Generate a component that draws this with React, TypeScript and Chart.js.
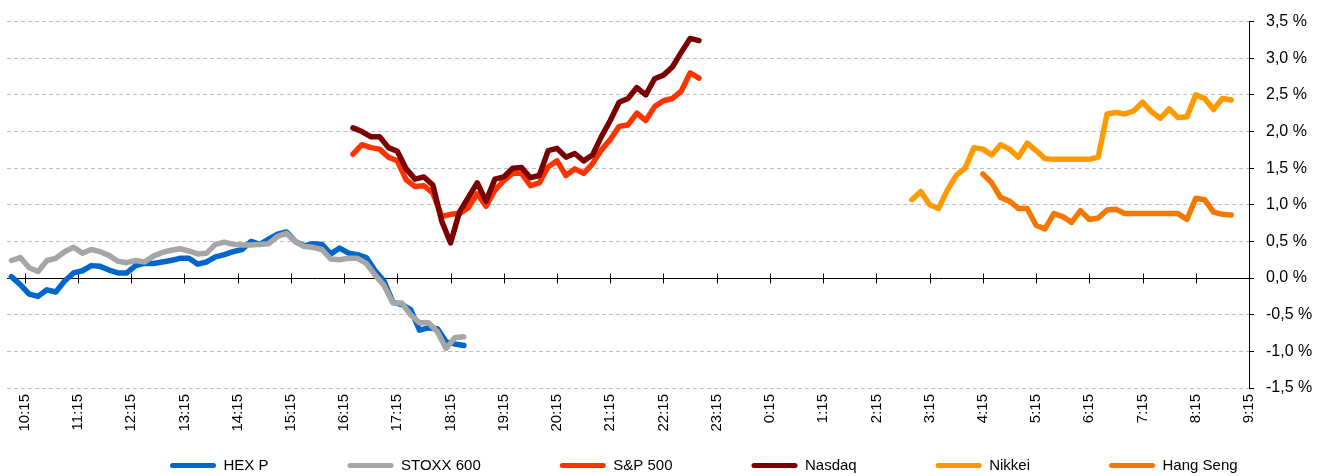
import React, { useEffect, useRef } from 'react';
import { Chart, registerables } from 'chart.js';

Chart.register(...registerables);

// ---------- data ----------
const X_TICK_LABELS = [
  '10:15', '11:15', '12:15', '13:15', '14:15', '15:15', '16:15', '17:15', '18:15', '19:15',
  '20:15', '21:15', '22:15', '23:15', '0:15', '1:15', '2:15', '3:15', '4:15', '5:15',
  '6:15', '7:15', '8:15', '9:15',
];
const X_MIN_TIME = '9:55';
const X_MAX_TIME = '9:15';
const STEP_MINUTES = 10;

const SERIES_NAMES = ['HEX P', 'STOXX 600', 'S&P 500', 'Nasdaq', 'Nikkei', 'Hang Seng'];
const SERIES_START = ['10:00', '10:00', '16:25', '16:25', '2:55', '4:15'];

const hexP = [
  0.02, -0.09, -0.22, -0.25, -0.16, -0.19, -0.04, 0.07, 0.1, 0.17, 0.16, 0.11, 0.07, 0.07, 0.17,
  0.2, 0.2, 0.22, 0.24, 0.27, 0.27, 0.19, 0.22, 0.29, 0.32, 0.36, 0.39, 0.5, 0.46, 0.53, 0.6,
  0.63, 0.5, 0.44, 0.47, 0.46, 0.33, 0.41, 0.34, 0.32, 0.28, 0.1, -0.04, -0.33, -0.36, -0.43,
  -0.71, -0.68, -0.69, -0.87, -0.9, -0.92,
];
const stoxx600 = [
  0.24, 0.28, 0.14, 0.09, 0.24, 0.27, 0.36, 0.42, 0.34, 0.39, 0.36, 0.31, 0.23, 0.21, 0.24,
  0.22, 0.3, 0.35, 0.38, 0.4, 0.37, 0.33, 0.34, 0.46, 0.49, 0.46, 0.45, 0.45, 0.46, 0.47, 0.57,
  0.61, 0.5, 0.43, 0.42, 0.39, 0.26, 0.25, 0.27, 0.27, 0.2, 0.04, -0.1, -0.34, -0.34, -0.5,
  -0.61, -0.61, -0.73, -0.96, -0.81, -0.8,
];
const sp500 = [
  1.69, 1.82, 1.78, 1.76, 1.65, 1.6, 1.34, 1.25, 1.26, 1.16, 0.84, 0.87, 0.88, 0.96, 1.15, 0.98,
  1.2, 1.33, 1.43, 1.43, 1.26, 1.3, 1.52, 1.6, 1.4, 1.49, 1.43, 1.56, 1.75, 1.89, 2.07, 2.09,
  2.25, 2.15, 2.34, 2.42, 2.45, 2.55, 2.8, 2.73,
];
const nasdaq = [
  2.05, 2.0, 1.93, 1.93, 1.78, 1.73, 1.49, 1.35, 1.38, 1.27, 0.78, 0.48, 0.9, 1.1, 1.3, 1.05,
  1.35, 1.38, 1.5, 1.51, 1.37, 1.4, 1.74, 1.77, 1.65, 1.7, 1.6, 1.68, 1.93, 2.15, 2.4, 2.45,
  2.6, 2.5, 2.72, 2.77, 2.88, 3.08, 3.27, 3.24,
];
const nikkei = [
  1.07, 1.18, 1.0, 0.95, 1.2, 1.4, 1.5, 1.78, 1.76, 1.68, 1.82, 1.76, 1.65, 1.84, 1.74, 1.63,
  1.62, 1.62, 1.62, 1.62, 1.62, 1.65, 2.24, 2.26, 2.24, 2.28, 2.4, 2.27, 2.18, 2.31, 2.19, 2.2,
  2.5, 2.45, 2.3, 2.45, 2.43,
];
const hangSeng = [
  1.42, 1.3, 1.1, 1.05, 0.95, 0.95, 0.72, 0.67, 0.88, 0.84, 0.76, 0.92, 0.8, 0.82, 0.93, 0.94,
  0.88, 0.88, 0.88, 0.88, 0.88, 0.88, 0.88, 0.8, 1.09, 1.07, 0.9, 0.87, 0.86,
];
const SERIES_VALUES = [hexP, stoxx600, sp500, nasdaq, nikkei, hangSeng];

const Y_MIN = -1.5;
const Y_MAX = 3.5;
const Y_STEP = 0.5;

// ---------- styles ----------
const SERIES_COLORS = ['#0066CC', '#A6A6A6', '#FF3300', '#7B0000', '#FF9900', '#F47800'];
const FONT = '"Liberation Sans", Arial, sans-serif';

// minutes on the axis (9:55 day 1 ... 9:15 day 2)
function toAxisMinutes(t: string): number {
  const [h, m] = t.split(':').map(Number);
  let v = h * 60 + m;
  if (v < 595) v += 1440;
  return v;
}

const X_TICK_VALUES = X_TICK_LABELS.map(toAxisMinutes);
const LABEL_BY_VALUE: Record<number, string> = {};
X_TICK_VALUES.forEach((v, i) => (LABEL_BY_VALUE[v] = X_TICK_LABELS[i]));

const LEGEND_PAD = 79;
const LEGEND_X = 170;
const LEGEND_Y = 458;

const zeroAxisPlugin = {
  id: 'zeroAxis',
  beforeDatasetsDraw(chart: any) {
    const { ctx, chartArea, scales } = chart;
    const y0 = Math.round(scales.y.getPixelForValue(0)) + 0.5;
    ctx.save();
    ctx.strokeStyle = '#000000';
    ctx.lineWidth = 1;
    ctx.beginPath();
    ctx.moveTo(chartArea.left, y0);
    ctx.lineTo(chartArea.right, y0);
    scales.x.ticks.forEach((t: any) => {
      const x = Math.round(scales.x.getPixelForValue(t.value)) + 0.5;
      ctx.moveTo(x, y0 - 5);
      ctx.lineTo(x, y0 + 5);
    });
    ctx.stroke();
    ctx.restore();
  },
};

const legendPlacePlugin = {
  id: 'legendPlace',
  afterLayout(chart: any) {
    const lg = chart.legend;
    if (!lg) return;
    lg.left = LEGEND_X - LEGEND_PAD;
    lg.right = 3000;
    lg.top = LEGEND_Y - LEGEND_PAD;
  },
};

export default function App() {
  const canvasRef = useRef<HTMLCanvasElement | null>(null);

  useEffect(() => {
    if (!canvasRef.current) return;
    Chart.defaults.font.family = FONT;

    const datasets = SERIES_NAMES.map((name, i) => {
      const start = toAxisMinutes(SERIES_START[i]);
      return {
        label: name,
        data: SERIES_VALUES[i].map((v, k) => ({ x: start + k * STEP_MINUTES, y: v })),
        borderColor: SERIES_COLORS[i],
        backgroundColor: SERIES_COLORS[i],
        borderWidth: 5.5,
        borderJoinStyle: 'round' as const,
        borderCapStyle: 'round' as const,
        pointRadius: 0,
        pointHoverRadius: 0,
        tension: 0,
        fill: false,
        order: SERIES_NAMES.length - i,
      };
    });

    const chart = new Chart(canvasRef.current, {
      type: 'line',
      data: { datasets },
      plugins: [zeroAxisPlugin, legendPlacePlugin],
      options: {
        animation: false,
        responsive: false,
        maintainAspectRatio: false,
        devicePixelRatio: 1,
        layout: { padding: { left: 7, top: 18, right: 0, bottom: 0 } },
        plugins: {
          tooltip: { enabled: false },
          legend: {
            position: 'bottom',
            align: 'start',
            maxHeight: 26,
            labels: {
              boxWidth: 46,
              boxHeight: 5,
              useBorderRadius: true,
              borderRadius: 2.5,
              padding: LEGEND_PAD,
              color: '#000000',
              font: { size: 15, family: FONT },
              sort: (a: any, b: any) => a.datasetIndex - b.datasetIndex,
              generateLabels: (c: any) =>
                Chart.defaults.plugins.legend.labels
                  .generateLabels(c)
                  .map((l: any) => ({ ...l, lineWidth: 0, fillStyle: l.strokeStyle })),
            },
          },
        },
        scales: {
          x: {
            type: 'linear',
            position: 'bottom',
            min: toAxisMinutes(X_MIN_TIME),
            max: toAxisMinutes(X_MAX_TIME),
            grid: { display: false, drawTicks: false },
            border: { display: false },
            afterBuildTicks: (s: any) => {
              s.ticks = X_TICK_VALUES.map((v) => ({ value: v }));
            },
            afterFit: (s: any) => {
              s.height = 62;
            },
            ticks: {
              autoSkip: false,
              minRotation: 90,
              maxRotation: 90,
              padding: 6,
              color: '#000000',
              font: { size: 15, family: FONT },
              callback: (v: any) => LABEL_BY_VALUE[v] ?? '',
            },
          },
          y: {
            type: 'linear',
            position: 'right',
            min: Y_MIN,
            max: Y_MAX,
            afterFit: (s: any) => {
              s.width = 68;
            },
            grid: {
              color: '#BFBFBF',
              lineWidth: 1,
              drawTicks: true,
              tickLength: 5,
              tickColor: '#000000',
              tickWidth: 1,
              tickBorderDash: [],
            },
            border: { display: true, color: '#000000', width: 1, dash: [4, 3] },
            ticks: {
              stepSize: Y_STEP,
              padding: 12,
              color: '#000000',
              font: { size: 16, family: FONT },
              callback: (v: any) => Number(v).toFixed(1).replace('.', ',') + ' %',
            },
          },
        },
      },
    } as any);

    return () => chart.destroy();
  }, []);

  return (
    <div style={{ position: 'fixed', left: 0, top: 0, width: 1317, height: 476, background: '#ffffff' }}>
      <canvas ref={canvasRef} width={1317} height={476} style={{ display: 'block' }} />
    </div>
  );
}
